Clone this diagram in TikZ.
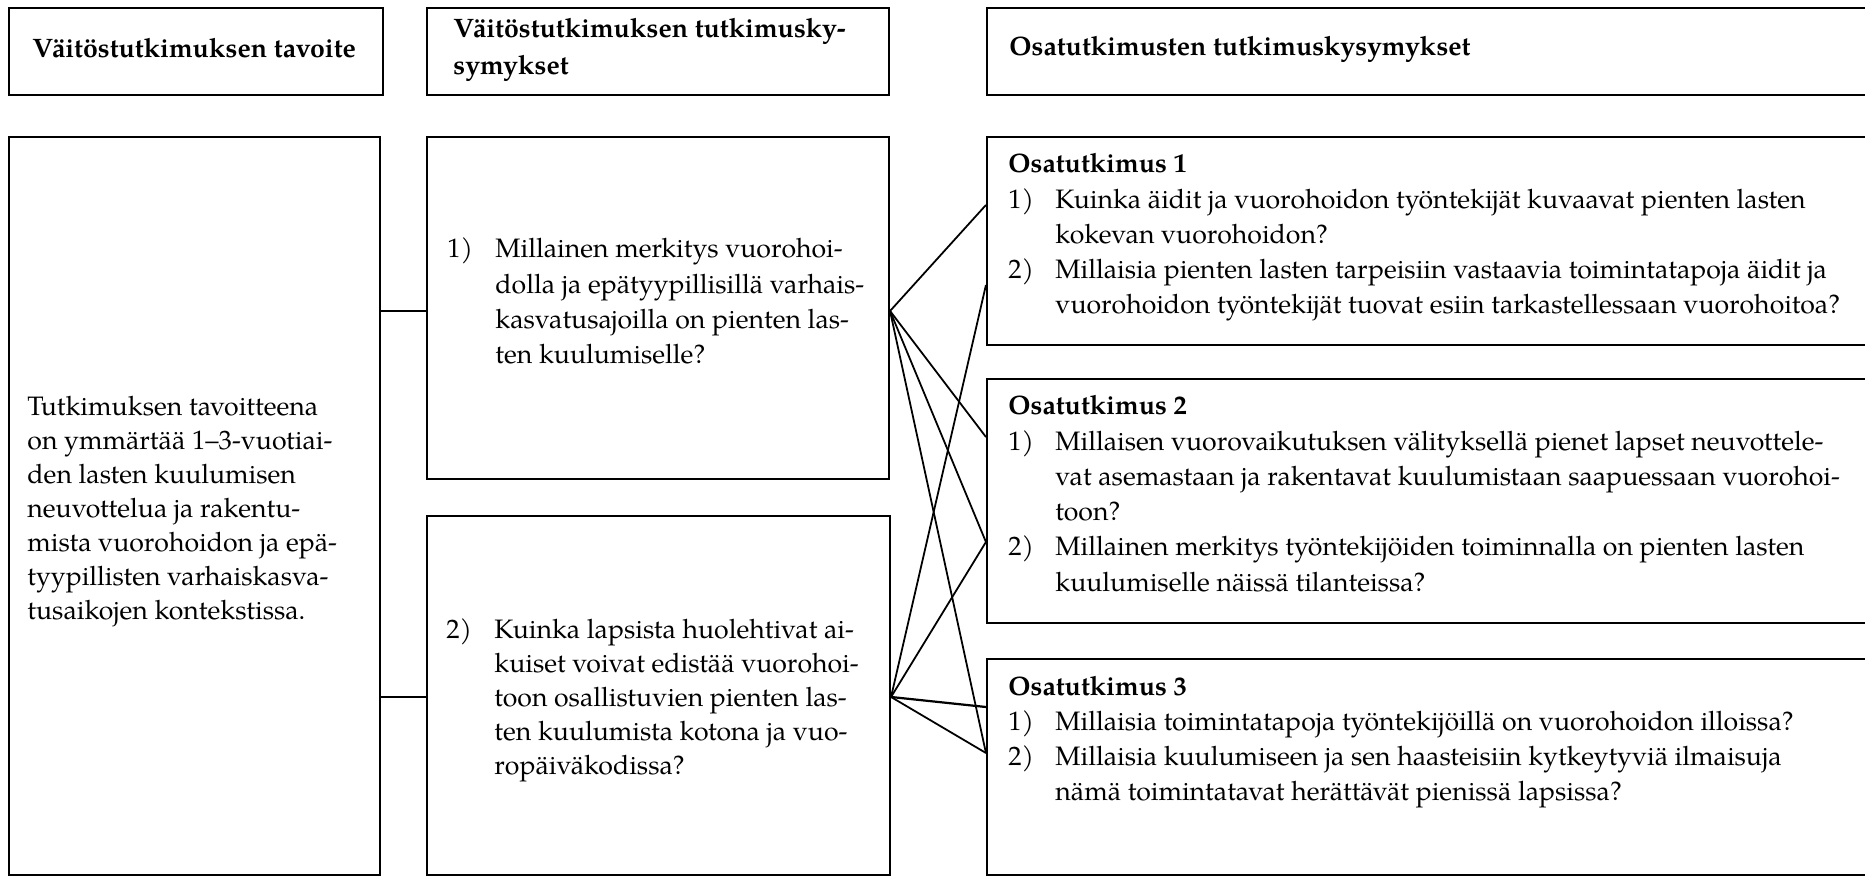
\documentclass[tikz,border=0pt]{standalone}
\usepackage{fontspec}
\setmainfont{TeX Gyre Pagella}
\usepackage{array}
\usetikzlibrary{fit}
\tikzset{
  box/.style={draw, line width=0.95pt, inner sep=0pt},
  txt/.style={inner sep=0pt, anchor=base west},
  link/.style={line width=0.8pt},
  thicklink/.style={line width=1.25pt},
}
\newcommand{\osfont}{\fontsize{12}{15.85}\selectfont}
\newcommand{\colfont}[1]{\fontsize{12}{#1}\selectfont}
\begin{document}
\begin{tikzpicture}[x=0.45pt,y=-0.45pt]
\useasboundingbox (0,0) rectangle (1865,877);
\clip (0,0) rectangle (1865,877);
\fill[white] (0,0) rectangle (1865,877);

% header boxes
\node[box, fit={(9,8) (383,95)}] (h1) {};
\node[box, fit={(427,8) (889,95)}] (h2) {};
\node[box, fit={(987,8) (1890,95)}] (h3) {};
% row boxes
\node[box, fit={(9,137) (380,875)}] (goal) {};
\node[box, fit={(427,137) (889,479)}] (q1) {};
\node[box, fit={(427,516) (890,875)}] (q2) {};
\node[box, fit={(987,137) (1890,345)}] (os1) {};
\node[box, fit={(987,379) (1890,623)}] (os2) {};
\node[box, fit={(987,659) (1890,875)}] (os3) {};

% header texts
\node[txt, font=\bfseries\colfont{15}] (h1t) at (32,58) {Väitöstutkimuksen tavoite};
\node[txt, font=\bfseries\colfont{16.5}] (h2t) at (453,38)
  {\begin{tabular}[t]{@{}l@{}}Väitöstutkimuksen tutkimusky-\\ symykset\end{tabular}};
\node[txt, font=\bfseries\colfont{15}] (h3t) at (1009,56) {Osatutkimusten tutkimuskysymykset};

% goal text
\node[txt, font=\colfont{15.3}] (goalt) at (27,416)
  {\begin{tabular}[t]{@{}l@{}}
   Tutkimuksen tavoitteena\\
   on ymmärtää 1–3-vuotiai-\\
   den lasten kuulumisen\\
   neuvottelua ja rakentu-\\
   mista vuorohoidon ja epä-\\
   tyypillisten varhaiskasva-\\
   tusaikojen kontekstissa.
  \end{tabular}};

% research questions
\node[txt, font=\colfont{15.9}] (q1t) at (447,258)
  {\begin{tabular}[t]{@{}p{21.6pt}@{}l@{}}
   1) & Millainen merkitys vuorohoi-\\
      & dolla ja epätyypillisillä varhais-\\
      & kasvatusajoilla on pienten las-\\
      & ten kuulumiselle?
  \end{tabular}};
\node[txt, font=\colfont{15.4}] (q2t) at (446,638)
  {\begin{tabular}[t]{@{}p{21.6pt}@{}l@{}}
   2) & Kuinka lapsista huolehtivat ai-\\
      & kuiset voivat edistää vuorohoi-\\
      & toon osallistuvien pienten las-\\
      & ten kuulumista kotona ja vuo-\\
      & ropäiväkodissa?
  \end{tabular}};

% sub-study questions
\node[txt, font=\osfont] (os1t) at (1008,173)
  {\begin{tabular}[t]{@{}p{21.15pt}@{}l@{}}
   \multicolumn{2}{@{}l@{}}{\bfseries Osatutkimus 1}\\
   1) & Kuinka äidit ja vuorohoidon työntekijät kuvaavat pienten lasten\\
      & kokevan vuorohoidon?\\
   2) & Millaisia pienten lasten tarpeisiin vastaavia toimintatapoja äidit ja\\
      & vuorohoidon työntekijät tuovat esiin tarkastellessaan vuorohoitoa?
  \end{tabular}};
\node[txt, font=\osfont] (os2t) at (1008,415)
  {\begin{tabular}[t]{@{}p{21.15pt}@{}l@{}}
   \multicolumn{2}{@{}l@{}}{\bfseries Osatutkimus 2}\\
   1) & Millaisen vuorovaikutuksen välityksellä pienet lapset neuvottele-\\
      & vat asemastaan ja rakentavat kuulumistaan saapuessaan vuorohoi-\\
      & toon?\\
   2) & Millainen merkitys työntekijöiden toiminnalla on pienten lasten\\
      & kuulumiselle näissä tilanteissa?
  \end{tabular}};
\node[txt, font=\osfont] (os3t) at (1008,695)
  {\begin{tabular}[t]{@{}p{21.15pt}@{}l@{}}
   \multicolumn{2}{@{}l@{}}{\bfseries Osatutkimus 3}\\
   1) & Millaisia toimintatapoja työntekijöillä on vuorohoidon illoissa?\\
   2) & Millaisia kuulumiseen ja sen haasteisiin kytkeytyviä ilmaisuja\\
      & nämä toimintatavat herättävät pienissä lapsissa?
  \end{tabular}};

% connector end points
\coordinate (q1o) at (q1.east |- 0,311);
\coordinate (q2o) at (q2.east |- 0,697);
\coordinate (os1a) at (os1.west |- 0,205);
\coordinate (os1b) at (os1.west |- 0,285);
\coordinate (os2a) at (os2.west |- 0,437);
\coordinate (os2b) at (os2.west |- 0,542);
\coordinate (os3a) at (os3.west |- 0,707);
\coordinate (os3b) at (os3.west |- 0,753);

% goal -> questions
\draw[thicklink] (goal.east |- q1o) -- (q1.west |- q1o);
\draw[thicklink] (goal.east |- q2o) -- (q2.west |- q2o);

% question 1 -> sub-studies
\draw[link] (q1o) -- (os1a);
\draw[link] (q1o) -- (os2a);
\draw[link] (q1o) -- (os2b);
\draw[link] (q1o) -- (os3b);
% question 2 -> sub-studies
\draw[link] (q2o) -- (os1b);
\draw[link] (q2o) -- (os2b);
\draw[link, line width=1pt] (q2o) -- (os3a);
\draw[link] (q2o) -- (os3b);
\end{tikzpicture}
\end{document}
